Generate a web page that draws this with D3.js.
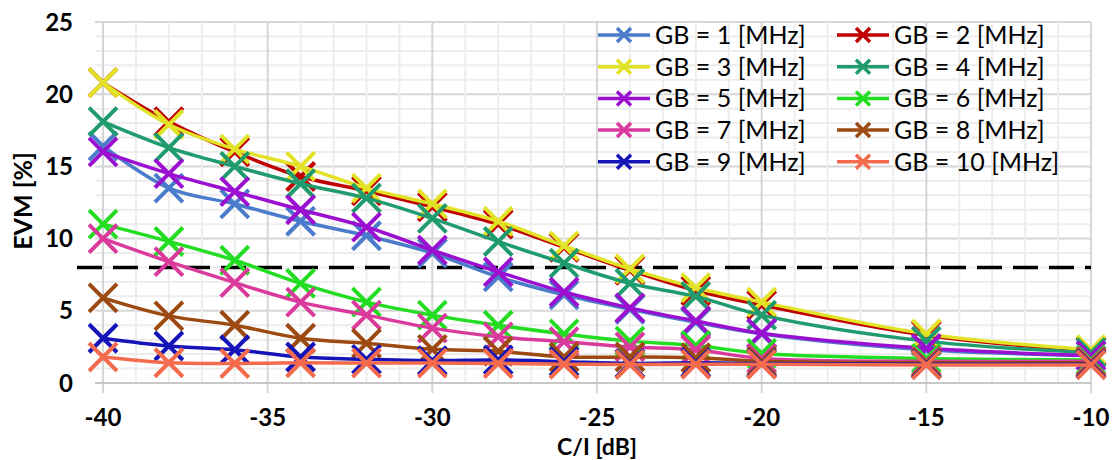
<!DOCTYPE html>
<html>
<head>
<meta charset="utf-8">
<script src="https://cdn.jsdelivr.net/npm/d3@7"></script>
<style>
  body { margin: 0; background: #fff; }
  svg { font-family: Lato, "Open Sans", sans-serif; }
</style>
</head>
<body>
<svg width="1120" height="460"></svg>
<script>
let width = 1120, height = 460;

// C/I values [dB]
const ciValues = [-40, -38, -36, -34, -32, -30, -28, -26, -24, -22, -20, -15, -10];

// EVM [%] per guard band
const gb1  = [16.4, 13.5, 12.4, 11.2, 10.2, 9.0, 7.35, 6.1, 5.1, 4.2, 3.4, 2.3, 1.9];
const gb2  = [20.8, 18.1, 16.0, 14.3, 13.3, 12.2, 11.0, 9.4, 7.8, 6.4, 5.4, 3.3, 2.2];
const gb3  = [20.8, 17.9, 16.2, 15.0, 13.5, 12.4, 11.2, 9.5, 7.9, 6.6, 5.6, 3.4, 2.3];
const gb4  = [18.1, 16.3, 15.0, 13.8, 12.8, 11.4, 9.8, 8.3, 6.9, 6.0, 4.7, 2.9, 2.1];
const gb5  = [16.0, 14.5, 13.25, 12.0, 10.8, 9.2, 7.7, 6.3, 5.2, 4.3, 3.45, 2.4, 1.9];
const gb6  = [11.0, 9.8, 8.5, 6.9, 5.6, 4.7, 4.0, 3.4, 2.9, 2.6, 2.05, 1.7, 1.6];
const gb7  = [10.0, 8.4, 6.95, 5.6, 4.7, 3.8, 3.2, 2.86, 2.5, 2.3, 1.7, 1.5, 1.5];
const gb8  = [5.9, 4.65, 4.0, 3.1, 2.75, 2.33, 2.2, 1.8, 1.8, 1.75, 1.5, 1.4, 1.4];
const gb9  = [3.1, 2.56, 2.3, 1.8, 1.64, 1.55, 1.6, 1.48, 1.36, 1.4, 1.35, 1.3, 1.3];
const gb10 = [1.8, 1.4, 1.35, 1.4, 1.38, 1.38, 1.35, 1.3, 1.28, 1.3, 1.3, 1.25, 1.25];

const seriesNames = ["GB = 1 [MHz]", "GB = 2 [MHz]", "GB = 3 [MHz]", "GB = 4 [MHz]", "GB = 5 [MHz]",
                     "GB = 6 [MHz]", "GB = 7 [MHz]", "GB = 8 [MHz]", "GB = 9 [MHz]", "GB = 10 [MHz]"];
const seriesColors = ["#4a7ccb", "#c00000", "#e2e226", "#1f9b6e", "#9b10d0",
                      "#22dd22", "#d93a9c", "#9c4a12", "#1414b8", "#f36b4c"];
const seriesValues = [gb1, gb2, gb3, gb4, gb5, gb6, gb7, gb8, gb9, gb10];

const evmLimit = 8;
const xTicks = [-40, -35, -30, -25, -20, -15, -10];
const yTicks = [0, 5, 10, 15, 20, 25];

let svg = d3.select("svg");

let x = d3.scaleLinear().domain([-40, -10]).range([103, 1091]);
let y = d3.scaleLinear().domain([0, 25]).range([383, 22]);
let plotLeft = 95;

// grid
let grid = svg.append("g");
grid.selectAll(".hminor")
    .data(d3.range(0, 26, 1))
    .enter().append("line")
    .attr("x1", plotLeft).attr("x2", x(-10))
    .attr("y1", d => y(d)).attr("y2", d => y(d))
    .attr("stroke", d => d % 5 === 0 ? "#d6d6d6" : "#ededed")
    .attr("stroke-width", 2);
grid.selectAll(".vminor")
    .data(d3.range(-40, -9, 1))
    .enter().append("line")
    .attr("x1", d => x(d)).attr("x2", d => x(d))
    .attr("y1", y(25)).attr("y2", d => d % 5 === 0 ? y(0) + 10 : y(0))
    .attr("stroke", d => d % 5 === 0 ? "#d6d6d6" : "#ededed")
    .attr("stroke-width", 2);

// x axis line
svg.append("line")
    .attr("x1", plotLeft).attr("x2", x(-10))
    .attr("y1", y(0)).attr("y2", y(0))
    .attr("stroke", "#c8c8c8").attr("stroke-width", 2);

// tick labels
svg.append("g").selectAll("text")
    .data(yTicks).enter().append("text")
    .attr("x", 73).attr("y", d => y(d))
    .attr("dy", "0.36em")
    .attr("text-anchor", "end")
    .attr("font-size", 24).attr("font-weight", "bold")
    .text(d => d);

svg.append("g").selectAll("text")
    .data(xTicks).enter().append("text")
    .attr("x", d => x(d)).attr("y", 426)
    .attr("text-anchor", "middle")
    .attr("font-size", 24).attr("font-weight", "bold")
    .text(d => d);

// axis titles
svg.append("text")
    .attr("x", 597).attr("y", 455)
    .attr("text-anchor", "middle")
    .attr("font-size", 23).attr("font-weight", "bold")
    .text("C/I [dB]");

svg.append("text")
    .attr("transform", "translate(32,201) rotate(-90)")
    .attr("text-anchor", "middle")
    .attr("font-size", 25).attr("font-weight", "bold")
    .text("EVM [%]");

// threshold
svg.append("line")
    .attr("x1", x(-40) - 26).attr("x2", x(-10))
    .attr("y1", y(evmLimit)).attr("y2", y(evmLimit))
    .attr("stroke", "#000").attr("stroke-width", 3.5)
    .attr("stroke-dasharray", "25,11");

let line = d3.line()
    .x(d => x(d[0]))
    .y(d => y(d[1]))
    .curve(d3.curveCatmullRom.alpha(0.5));

function cross(g, cx, cy, r, color, w) {
    g.append("path")
        .attr("d", `M${cx - r},${cy - r}L${cx + r},${cy + r}M${cx - r},${cy + r}L${cx + r},${cy - r}`)
        .attr("stroke", color).attr("stroke-width", w).attr("fill", "none");
}

// series
seriesValues.forEach((vals, i) => {
    let pts = ciValues.map((c, j) => [c, vals[j]]);
    let g = svg.append("g");
    g.append("path")
        .datum(pts)
        .attr("d", line)
        .attr("fill", "none")
        .attr("stroke", seriesColors[i])
        .attr("stroke-width", 3.5);
    g.selectAll("path.m")
        .data(pts).enter().append("path")
        .attr("class", "m")
        .attr("d", d => {
            let cx = x(d[0]), cy = y(d[1]), r = 14;
            return `M${cx - r},${cy - r}L${cx + r},${cy + r}M${cx - r},${cy + r}L${cx + r},${cy - r}`;
        })
        .attr("stroke", seriesColors[i])
        .attr("stroke-width", 4)
        .attr("fill", "none");
});

// legend
let legend = svg.append("g");
seriesNames.forEach((name, i) => {
    let col = i % 2, row = Math.floor(i / 2);
    let lx = col === 0 ? 598 : 837;
    let ly = 35 + row * 31.7;
    legend.append("line")
        .attr("x1", lx).attr("x2", lx + 52)
        .attr("y1", ly).attr("y2", ly)
        .attr("stroke", seriesColors[i]).attr("stroke-width", 3.5);
    cross(legend, lx + 26, ly, 7, seriesColors[i], 3.5);
    legend.append("text")
        .attr("x", lx + 57).attr("y", ly)
        .attr("dy", "0.36em")
        .attr("font-size", 25)
        .text(name);
});
</script>
</body>
</html>
